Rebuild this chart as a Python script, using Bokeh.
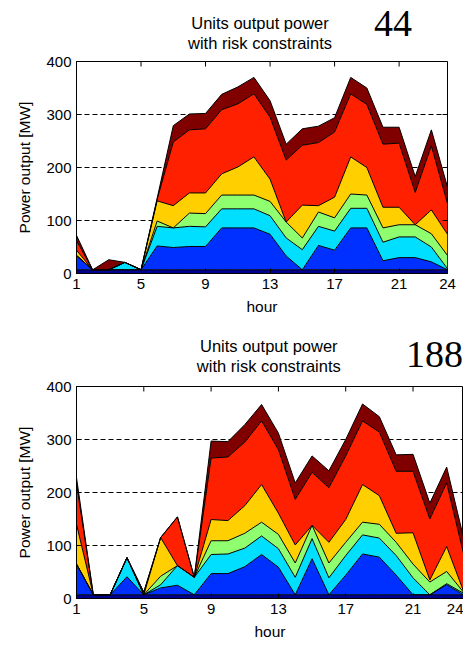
from bokeh.plotting import figure
from bokeh.layouts import column
from bokeh.models import ColumnDataSource, FixedTicker, Range1d
from bokeh.core.properties import value
from bokeh.embed import file_html
from bokeh.resources import INLINE

hours = list(range(1, 25))
unit_names = ["unit1", "unit2", "unit3", "unit4", "unit5", "unit6", "unit7"]
unit_colors = ["#00008F", "#0030FF", "#00DFFF", "#8FFF70", "#FFCF00", "#FF2000", "#800000"]
x_ticks = [1, 5, 9, 13, 17, 21, 24]
y_ticks = [0, 100, 200, 300, 400]
title_lines = ["Units output power", "with risk constraints"]

# case 44: hourly output of each unit [MW]
case44_unit1 = [7] * 24
case44_unit2 = [27, 0, 0, 0, 0, 45, 42, 44, 44, 79, 79, 79, 67, 26, 0, 46, 37, 79, 79, 17, 23, 23, 15, 0]
case44_unit3 = [0, 0, 0, 14, 0, 37, 37, 38, 37, 36, 36, 36, 35, 34, 38, 36, 36, 37, 37, 35, 39, 39, 28, 2]
case44_unit4 = [0, 0, 0, 0, 0, 10, 0, 25, 25, 26, 26, 26, 27, 30, 22, 27, 25, 27, 25, 27, 23, 23, 25, 25]
case44_unit5 = [10, 0, 0, 0, 0, 38, 42, 38, 39, 40, 53, 72, 42, 0, 62, 12, 39, 70, 52, 39, 33, 0, 45, 40]
case44_unit6 = [18, 0, 0, 0, 0, 3, 120, 119, 121, 121, 119, 119, 117, 117, 113, 119, 123, 119, 119, 119, 121, 61, 121, 58]
case44_unit7 = [10, 0, 19, 0, 0, 2, 31, 30, 29, 29, 32, 31, 31, 30, 31, 31, 27, 31, 31, 32, 30, 30, 30, 31]

# case 188: hourly output of each unit [MW]
case188_unit1 = [7] * 24
case188_unit2 = [58, 0, 0, 34, 0, 13, 18, 0, 40, 40, 53, 76, 52, 0, 68, 0, 37, 77, 71, 37, 0, 0, 19, 0]
case188_unit3 = [0, 0, 0, 36, 0, 6, 37, 33, 36, 37, 35, 35, 35, 33, 38, 32, 37, 36, 36, 37, 32, 0, 2, 3]
case188_unit4 = [0, 0, 0, 0, 0, 16, 0, 0, 26, 25, 28, 26, 27, 27, 25, 28, 25, 24, 26, 25, 26, 24, 23, 2]
case188_unit5 = [75, 0, 0, 0, 0, 73, 0, 0, 40, 38, 52, 71, 40, 34, 0, 39, 43, 71, 54, 17, 59, 4, 47, 2]
case188_unit6 = [77, 0, 0, 0, 5, 0, 92, 0, 116, 120, 120, 120, 120, 86, 100, 103, 120, 120, 120, 117, 116, 115, 120, 71]
case188_unit7 = [11, 0, 0, 0, 0, 0, 0, 0, 32, 29, 33, 31, 31, 31, 31, 32, 31, 32, 29, 31, 32, 30, 30, 30]

case44 = [case44_unit1, case44_unit2, case44_unit3, case44_unit4,
          case44_unit5, case44_unit6, case44_unit7]
case188 = [case188_unit1, case188_unit2, case188_unit3, case188_unit4,
           case188_unit5, case188_unit6, case188_unit7]

SANS = "Liberation Sans"
SERIF = "Liberation Serif"
HEADER_H = 53
FRAME_TOP = 61
FRAME_H = 212
TICK_LEN = 5


def header(tag, left, frame_w, right, title_cx, y1, y2, tag_x, tag_y):
    """Two-line centred title plus the case number, in page-pixel units.

    The header shares the horizontal borders of the plot below it, so the
    column keeps both frames aligned."""
    h = figure(frame_width=frame_w, frame_height=HEADER_H,
               min_border_left=left, min_border_right=right,
               min_border_top=0, min_border_bottom=0,
               x_range=Range1d(left, left + frame_w), y_range=Range1d(HEADER_H, 0),
               x_axis_location=None, y_axis_location=None,
               output_backend="svg", toolbar_location=None)
    h.outline_line_color = None
    h.grid.visible = False
    h.text(x=[title_cx, title_cx], y=[y1, y2], text=title_lines,
           text_align="center", text_baseline="middle",
           text_font=value(SANS), text_font_size="16.5px", text_color="black")
    h.text(x=[tag_x], y=[tag_y], text=[tag],
           text_align="left", text_baseline="middle",
           text_font=value(SERIF), text_font_size="38px", text_color="black")
    return h


def panel(units, left, frame_w, right, right_ticks):
    data = {"hour": hours}
    for name, vals in zip(unit_names, units):
        data[name] = vals
    src = ColumnDataSource(data)

    p = figure(frame_width=frame_w, frame_height=FRAME_H,
               min_border_left=left, min_border_right=right,
               min_border_top=FRAME_TOP - HEADER_H, min_border_bottom=52,
               x_range=Range1d(1, 24), y_range=Range1d(0, 400),
               output_backend="svg", toolbar_location=None,
               background_fill_color="white", border_fill_color="white")

    p.varea_stack(stackers=unit_names, x="hour", color=unit_colors, source=src)
    p.vline_stack(stackers=unit_names, x="hour", line_color="black",
                  line_width=1, source=src)

    p.outline_line_color = "black"
    p.outline_line_width = 1

    p.xgrid.visible = False
    p.ygrid.ticker = FixedTicker(ticks=[100, 200, 300])
    p.ygrid.grid_line_color = "black"
    p.ygrid.grid_line_dash = "5 3"
    p.ygrid.grid_line_width = 1

    p.xaxis.ticker = FixedTicker(ticks=x_ticks)
    p.yaxis.ticker = FixedTicker(ticks=y_ticks)
    p.xaxis.axis_label = "hour"
    p.yaxis.axis_label = "Power output [MW]"
    for ax in (p.xaxis[0], p.yaxis[0]):
        ax.axis_line_color = "black"
        ax.major_tick_line_color = "black"
        ax.major_tick_in = TICK_LEN
        ax.major_tick_out = 0
        ax.minor_tick_line_color = None
        ax.major_label_text_font = SANS
        ax.major_label_text_font_size = "15px"
        ax.major_label_text_color = "black"
        ax.major_label_standoff = 5
        ax.axis_label_text_font = SANS
        ax.axis_label_text_font_size = "15.5px"
        ax.axis_label_text_font_style = "normal"
        ax.axis_label_text_color = "black"
    p.xaxis.axis_label_standoff = 6
    p.yaxis.axis_label_standoff = 10

    # inward tick marks mirrored on the top (and right) edge of the box
    dy = TICK_LEN * 400 / FRAME_H
    p.segment(x0=x_ticks, y0=[400] * len(x_ticks),
              x1=x_ticks, y1=[400 - dy] * len(x_ticks),
              line_color="black", line_width=1)
    if right_ticks:
        dx = TICK_LEN * 23 / frame_w
        p.segment(x0=[24] * len(y_ticks), y0=y_ticks,
                  x1=[24 - dx] * len(y_ticks), y1=y_ticks,
                  line_color="black", line_width=1)
    return p


h1 = header("44", 74, 371, 18, 257.5, 22.5, 42.5, 371.5, 23)
p1 = panel(case44, left=74, frame_w=371, right=18, right_ticks=True)
h2 = header("188", 76, 387, 0, 268.3, 20.5, 40.5, 405.5, 29)
p2 = panel(case188, left=76, frame_w=387, right=0, right_ticks=False)

layout = column(h1, p1, h2, p2, spacing=0)

open("out.html", "w").write(file_html(layout, INLINE))
